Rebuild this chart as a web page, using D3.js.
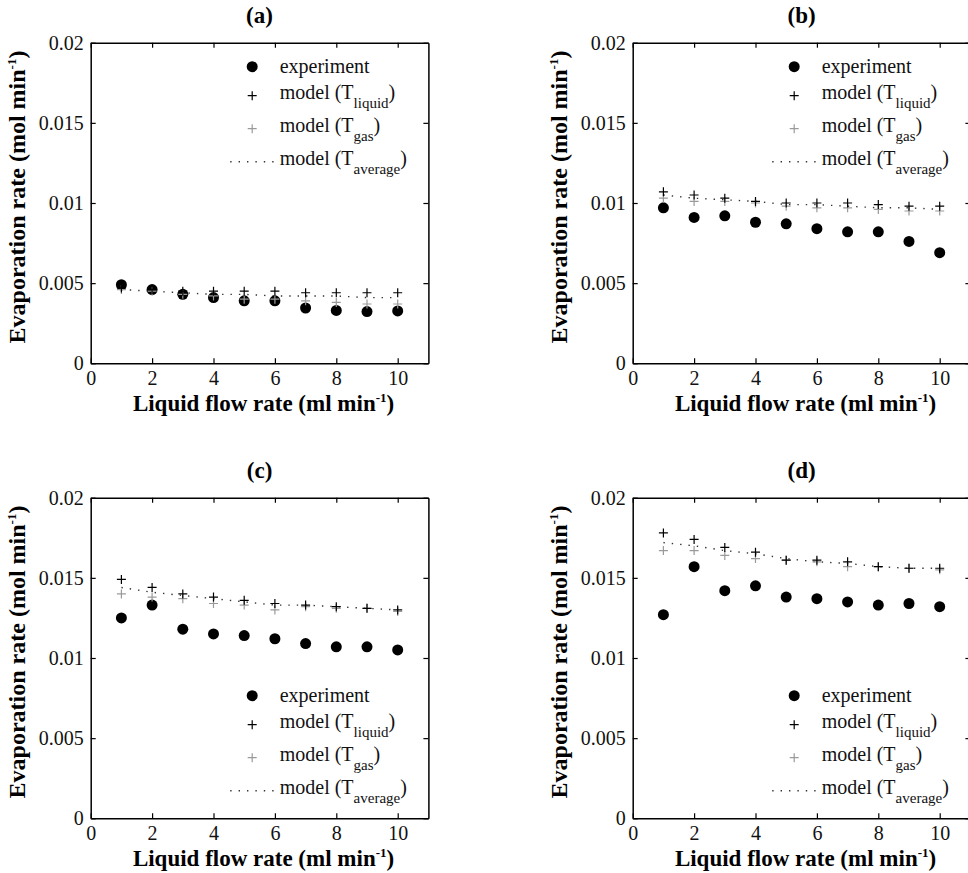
<!DOCTYPE html>
<html>
<head>
<meta charset="utf-8">
<script src="https://cdn.jsdelivr.net/npm/d3@7"></script>
<style>
  html, body { margin: 0; padding: 0; background: #fff; overflow: hidden; }
  svg { display: block; font-family: "Liberation Serif", "DejaVu Serif", "Times New Roman", serif; }
</style>
</head>
<body>
<svg id="chart" width="968" height="873"></svg>
<script>
// ---- data ----
const flowRates = [1, 2, 3, 4, 5, 6, 7, 8, 9, 10];
const xTicks = [0, 2, 4, 6, 8, 10];
const yTicks = [0, 0.005, 0.01, 0.015, 0.02];
const panelLabels = ["(a)", "(b)", "(c)", "(d)"];
const legendSide = ["top", "top", "bottom", "bottom"];

const expA = [0.0049, 0.0046, 0.0043, 0.0041, 0.0039, 0.0039, 0.00345, 0.0033, 0.00323, 0.00327];
const liqA = [0.0047, 0.0046, 0.0045, 0.0045, 0.0045, 0.0045, 0.0044, 0.0044, 0.0044, 0.0044];
const gasA = [0.0046, 0.0045, 0.0043, 0.0042, 0.0040, 0.0040, 0.0039, 0.0038, 0.0037, 0.0037];
const avgA = [0.0046, 0.0045, 0.0044, 0.0043, 0.0043, 0.0042, 0.0042, 0.0042, 0.0041, 0.0041];

const expB = [0.0097, 0.0091, 0.0092, 0.0088, 0.0087, 0.0084, 0.0082, 0.0082, 0.0076, 0.0069];
const liqB = [0.0107, 0.0105, 0.0103, 0.0101, 0.0100, 0.0100, 0.0100, 0.0099, 0.0098, 0.0098];
const gasB = [0.0103, 0.0101, 0.0101, 0.0100, 0.0098, 0.0097, 0.0097, 0.0096, 0.0095, 0.0095];
const avgB = [0.0105, 0.0103, 0.0102, 0.0101, 0.0099, 0.0099, 0.0098, 0.0097, 0.0097, 0.0096];

const expC = [0.0125, 0.0133, 0.0118, 0.0115, 0.0114, 0.0112, 0.0109, 0.0107, 0.0107, 0.0105];
const liqC = [0.0149, 0.0144, 0.0140, 0.0138, 0.0136, 0.0134, 0.0133, 0.0132, 0.0131, 0.0130];
const gasC = [0.0140, 0.0138, 0.0137, 0.0134, 0.0133, 0.0130, 0.0132, 0.0131, 0.0131, 0.0129];
const avgC = [0.0144, 0.0141, 0.0139, 0.0137, 0.0135, 0.0133, 0.0133, 0.0132, 0.0131, 0.0130];

const expD = [0.0127, 0.0157, 0.0142, 0.0145, 0.0138, 0.0137, 0.0135, 0.0133, 0.0134, 0.0132];
const liqD = [0.0178, 0.0174, 0.0169, 0.0166, 0.0161, 0.0161, 0.0160, 0.0157, 0.0156, 0.0156];
const gasD = [0.0167, 0.0167, 0.0164, 0.0162, 0.0161, 0.0160, 0.0157, 0.0157, 0.0156, 0.0155];
const avgD = [0.0172, 0.0170, 0.0167, 0.0165, 0.0162, 0.0160, 0.0159, 0.0157, 0.0156, 0.0156];

const panels = [
    {exp: expA, liq: liqA, gas: gasA, avg: avgA},
    {exp: expB, liq: liqB, gas: gasB, avg: avgB},
    {exp: expC, liq: liqC, gas: gasC, avg: avgC},
    {exp: expD, liq: liqD, gas: gasD, avg: avgD}
];

// ---- layout ----
const lefts = [90.7, 632.7];
const tops = [42.7, 497.7];
const plotW = 337.7;
const plotH = 320.6;
const gasColor = "#9a9a9a";
const serif = "'Liberation Serif', 'DejaVu Serif', serif";

const svg = d3.select("#chart");
svg.append("rect").attr("width", 968).attr("height", 873).attr("fill", "#fff");

const plusPath = s => `M${-s},0H${s}M0,${-s}V${s}`;

panels.forEach((p, i) => {

    const left = lefts[i % 2];
    const top = tops[Math.floor(i / 2)];

    const x = d3.scaleLinear().domain([0, 11]).range([0, plotW]);
    const y = d3.scaleLinear().domain([0, 0.02]).range([plotH, 0]);

    const g = svg.append("g").attr("transform", `translate(${left},${top})`);

    // box axes with inward ticks (matlab style)
    const bottomAxis = d3.axisBottom(x).tickValues(xTicks).tickSizeInner(-5).tickSizeOuter(0).tickPadding(7).tickFormat(d => d);
    const topAxis = d3.axisTop(x).tickValues(xTicks).tickSizeInner(-5).tickSizeOuter(0).tickFormat("");
    const leftAxis = d3.axisLeft(y).tickValues(yTicks).tickSizeInner(-5).tickSizeOuter(0).tickPadding(7).tickFormat(d => String(d));
    const rightAxis = d3.axisRight(y).tickValues(yTicks).tickSizeInner(-5).tickSizeOuter(0).tickFormat("");

    const axes = [
        g.append("g").attr("transform", `translate(0,${plotH})`).call(bottomAxis),
        g.append("g").call(topAxis),
        g.append("g").call(leftAxis),
        g.append("g").attr("transform", `translate(${plotW},0)`).call(rightAxis)
    ];
    axes.forEach(a => {
        a.attr("font-family", serif);
        a.select(".domain").attr("stroke", "#000").attr("stroke-width", 1.5);
        a.selectAll(".tick line").attr("stroke", "#000").attr("stroke-width", 1.2);
        a.selectAll(".tick text")
            .attr("fill", "#111")
            .style("font-family", serif)
            .style("font-size", "20px");
    });
    axes[0].selectAll(".tick text").attr("dy", "0.72em");

    // average model: dotted line
    const line = d3.line().x((d, j) => x(flowRates[j])).y(d => y(d));
    g.append("path")
        .datum(p.avg)
        .attr("d", line)
        .attr("fill", "none")
        .attr("stroke", "#333")
        .attr("stroke-width", 1.4)
        .attr("stroke-dasharray", "1.4,7");

    // experiment circles
    g.append("g").selectAll("circle")
        .data(p.exp)
        .join("circle")
            .attr("cx", (d, j) => x(flowRates[j]))
            .attr("cy", d => y(d))
            .attr("r", 5.5)
            .attr("fill", "#000");

    // model T_gas (grey plus)
    g.append("g").selectAll("path")
        .data(p.gas)
        .join("path")
            .attr("transform", (d, j) => `translate(${x(flowRates[j])},${y(d)})`)
            .attr("d", plusPath(4.5))
            .attr("stroke", gasColor)
            .attr("stroke-width", 1.2);

    // model T_liquid (black plus)
    g.append("g").selectAll("path")
        .data(p.liq)
        .join("path")
            .attr("transform", (d, j) => `translate(${x(flowRates[j])},${y(d)})`)
            .attr("d", plusPath(4.5))
            .attr("stroke", "#000")
            .attr("stroke-width", 1.2);

    // panel title
    g.append("text")
        .attr("x", plotW / 2)
        .attr("y", -20)
        .attr("text-anchor", "middle")
        .style("font-size", "23px")
        .style("font-weight", "bold")
        .text(panelLabels[i]);

    // x label
    const xl = g.append("text")
        .attr("x", plotW / 2 + 4)
        .attr("y", plotH + 48)
        .attr("text-anchor", "middle")
        .style("font-size", "23px")
        .style("font-weight", "bold");
    xl.append("tspan").text("Liquid flow rate (ml min");
    xl.append("tspan").attr("dy", -9).style("font-size", "13px").text("-1");
    xl.append("tspan").attr("dy", 9).text(")");

    // y label
    const yl = g.append("text")
        .attr("transform", `translate(-66,${plotH / 2 - 6}) rotate(-90)`)
        .attr("text-anchor", "middle")
        .style("font-size", "24px")
        .style("font-weight", "bold");
    yl.append("tspan").text("Evaporation rate (mol min");
    yl.append("tspan").attr("dy", -9).style("font-size", "13px").text("-1");
    yl.append("tspan").attr("dy", 9).text(")");

    // legend
    const base = legendSide[i] === "top" ? 30 : 204;
    const rowOffsets = [0, 26, 59, 92];
    const mx = 161.5;
    const tx = 189;
    const lg = g.append("g").attr("transform", `translate(0,${base})`);

    lg.append("circle").attr("cx", mx).attr("cy", rowOffsets[0] - 6).attr("r", 5.5).attr("fill", "#000");
    lg.append("path").attr("transform", `translate(${mx},${rowOffsets[1] - 3})`).attr("d", plusPath(4.5))
        .attr("stroke", "#000").attr("stroke-width", 1.2);
    lg.append("path").attr("transform", `translate(${mx},${rowOffsets[2] - 3})`).attr("d", plusPath(4.5))
        .attr("stroke", gasColor).attr("stroke-width", 1.2);
    lg.append("line").attr("x1", mx - 22).attr("x2", mx + 22)
        .attr("y1", rowOffsets[3] - 3).attr("y2", rowOffsets[3] - 3)
        .attr("stroke", "#333").attr("stroke-width", 1.4).attr("stroke-dasharray", "1.4,7");

    const labels = [
        ["experiment", null],
        ["model (T", "liquid"],
        ["model (T", "gas"],
        ["model (T", "average"]
    ];
    labels.forEach((l, k) => {
        const t = lg.append("text")
            .attr("x", tx)
            .attr("y", rowOffsets[k])
            .style("font-size", "20px")
            .attr("fill", "#111");
        t.append("tspan").text(l[0]);
        if (l[1]) {
            t.append("tspan").attr("dy", 9).style("font-size", "15px").text(l[1]);
            t.append("tspan").attr("dy", -9).text(")");
        }
    });
});
</script>
</body>
</html>
